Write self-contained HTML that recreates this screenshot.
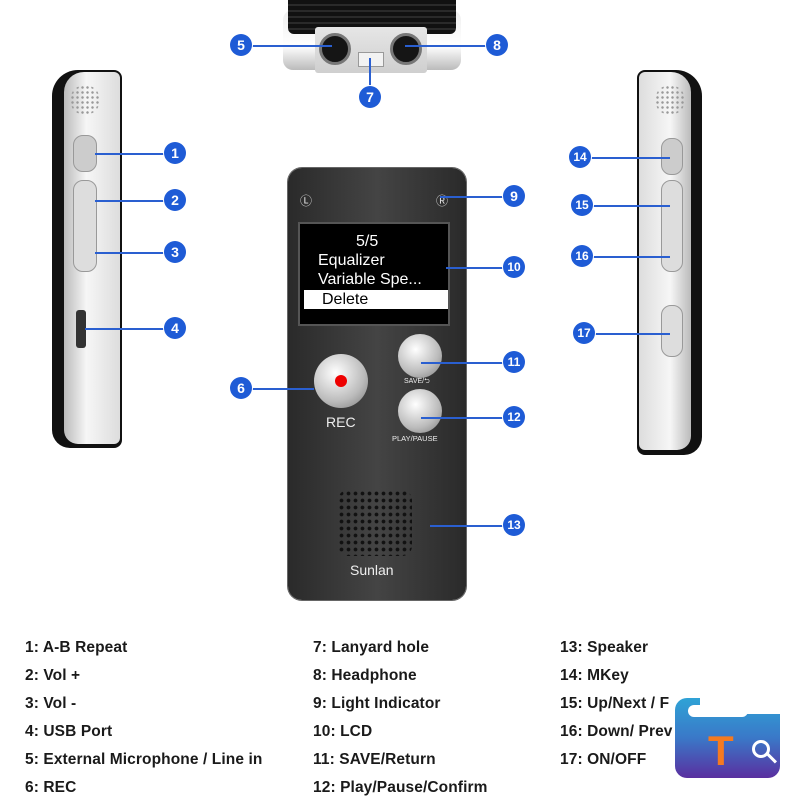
<!DOCTYPE html>
<html><head><meta charset="utf-8"><style>
body{margin:0;width:800px;height:800px;background:#fff;position:relative;overflow:hidden;font-family:"Liberation Sans",sans-serif}
.a{position:absolute}
.n{position:absolute;width:22px;height:22px;border-radius:50%;background:#1e5bd6;color:#fff;font-weight:bold;font-size:14px;text-align:center;line-height:22px;box-shadow:0 0 0 1px #fff}
.l{position:absolute;height:1.5px;background:#2a5fd0}
.t{position:absolute;font-size:15.5px;color:#1a1a1a;font-weight:bold;letter-spacing:0.1px}
</style></head><body>
<!-- top device -->
<div class="a" style="left:283px;top:10px;width:178px;height:60px;background:linear-gradient(#eee,#fff 60%,#bbb);border-radius:10px"></div>
<div class="a" style="left:288px;top:0;width:168px;height:34px;background:repeating-linear-gradient(#111 0 4px,#2a2a2a 4px 6px);border-radius:0 0 6px 6px"></div>
<div class="a" style="left:315px;top:27px;width:112px;height:46px;background:linear-gradient(#e6e6e6,#cfcfcf);border-radius:3px"></div>
<div class="a" style="left:319px;top:33px;width:26px;height:26px;border-radius:50%;background:#151515;border:3px solid #777"></div>
<div class="a" style="left:390px;top:33px;width:26px;height:26px;border-radius:50%;background:#151515;border:3px solid #777"></div>
<div class="a" style="left:358px;top:52px;width:24px;height:13px;background:#f2f2f2;border:1px solid #999"></div>
<!-- left side device -->
<div class="a" style="left:52px;top:70px;width:70px;height:378px;background:#111;border-radius:26px 8px 8px 18px"></div>
<div class="a" style="left:64px;top:72px;width:56px;height:372px;background:linear-gradient(90deg,#bbb,#f6f6f6 40%,#ddd);border-radius:20px 6px 6px 14px"></div>
<div class="a" style="left:70px;top:85px;width:30px;height:30px;border-radius:50%;background:radial-gradient(#999 1px,transparent 1.5px) 0 0/5px 5px"></div>
<div class="a" style="left:73px;top:135px;width:22px;height:35px;background:#ccc;border-radius:10px;border:1px solid #999"></div>
<div class="a" style="left:73px;top:180px;width:22px;height:90px;background:#ddd;border-radius:10px;border:1px solid #999"></div>
<div class="a" style="left:76px;top:310px;width:10px;height:38px;background:#333;border-radius:3px"></div>
<!-- right side device -->
<div class="a" style="left:637px;top:70px;width:65px;height:385px;background:#111;border-radius:8px 26px 18px 8px"></div>
<div class="a" style="left:639px;top:72px;width:52px;height:378px;background:linear-gradient(90deg,#ddd,#f6f6f6 60%,#bbb);border-radius:6px 20px 14px 6px"></div>
<div class="a" style="left:655px;top:85px;width:30px;height:30px;border-radius:50%;background:radial-gradient(#999 1px,transparent 1.5px) 0 0/5px 5px"></div>
<div class="a" style="left:661px;top:138px;width:20px;height:35px;background:#ccc;border-radius:10px;border:1px solid #999"></div>
<div class="a" style="left:661px;top:180px;width:20px;height:90px;background:#ddd;border-radius:10px;border:1px solid #999"></div>
<div class="a" style="left:661px;top:305px;width:20px;height:50px;background:#ddd;border-radius:10px;border:1px solid #999"></div>
<!-- center device -->
<div class="a" style="left:288px;top:168px;width:178px;height:432px;background:linear-gradient(90deg,#2a2a2a,#444 50%,#2a2a2a);border-radius:14px;box-shadow:0 0 0 1px #666"></div>
<div class="a" style="left:300px;top:192px;color:#ddd;font-size:12px">Ⓛ</div>
<div class="a" style="left:436px;top:192px;color:#ddd;font-size:12px">Ⓡ</div>
<div class="a" style="left:298px;top:222px;width:148px;height:100px;background:#000;border:2px solid #555;color:#fff;font-size:16px;line-height:19px">
<div style="padding-left:56px;margin-top:8px">5/5</div>
<div style="padding-left:18px">Equalizer</div>
<div style="padding-left:18px">Variable Spe...</div>
<div style="padding-left:18px;background:#fff;color:#000;margin:1px 0 0 4px">Delete</div></div>
<div class="a" style="left:314px;top:354px;width:54px;height:54px;border-radius:50%;background:radial-gradient(circle at 40% 35%,#fff,#bbb 60%,#777)"></div>
<div class="a" style="left:335px;top:375px;width:12px;height:12px;border-radius:50%;background:#e00"></div>
<div class="a" style="left:326px;top:414px;color:#eee;font-size:14px">REC</div>
<div class="a" style="left:398px;top:334px;width:44px;height:44px;border-radius:50%;background:radial-gradient(circle at 40% 35%,#fff,#bbb 60%,#777)"></div>
<div class="a" style="left:404px;top:377px;color:#eee;font-size:7px">SAVE/⮌</div>
<div class="a" style="left:398px;top:389px;width:44px;height:44px;border-radius:50%;background:radial-gradient(circle at 40% 35%,#fff,#bbb 60%,#777)"></div>
<div class="a" style="left:392px;top:434px;color:#eee;font-size:7.5px">PLAY/PAUSE</div>
<div class="a" style="left:338px;top:490px;width:74px;height:66px;border-radius:10px;background:radial-gradient(#111 1.6px,transparent 2.2px) 0 0/7px 7px"></div>
<div class="a" style="left:350px;top:562px;color:#eee;font-size:14px">Sunlan</div>
<!-- lines -->
<div class="l" style="left:95px;top:153px;width:70px"></div>
<div class="l" style="left:95px;top:200px;width:70px"></div>
<div class="l" style="left:95px;top:252px;width:70px"></div>
<div class="l" style="left:85px;top:328px;width:80px"></div>
<div class="l" style="left:252px;top:45px;width:80px"></div>
<div class="l" style="left:405px;top:45px;width:83px"></div>
<div class="a" style="left:369px;top:58px;width:1.5px;height:30px;background:#2a5fd0"></div>
<div class="l" style="left:252px;top:388px;width:62px"></div>
<div class="l" style="left:440px;top:196px;width:65px"></div>
<div class="l" style="left:446px;top:267px;width:60px"></div>
<div class="l" style="left:421px;top:362px;width:85px"></div>
<div class="l" style="left:421px;top:417px;width:85px"></div>
<div class="l" style="left:430px;top:525px;width:75px"></div>
<div class="l" style="left:590px;top:157px;width:80px"></div>
<div class="l" style="left:592px;top:205px;width:78px"></div>
<div class="l" style="left:592px;top:256px;width:78px"></div>
<div class="l" style="left:594px;top:333px;width:76px"></div>
<!-- numbers -->
<div class="n" style="left:164px;top:142px">1</div>
<div class="n" style="left:164px;top:189px">2</div>
<div class="n" style="left:164px;top:241px">3</div>
<div class="n" style="left:164px;top:317px">4</div>
<div class="n" style="left:230px;top:34px">5</div>
<div class="n" style="left:230px;top:377px">6</div>
<div class="n" style="left:359px;top:86px">7</div>
<div class="n" style="left:486px;top:34px">8</div>
<div class="n" style="left:503px;top:185px">9</div>
<div class="n" style="left:503px;top:256px;font-size:12px">10</div>
<div class="n" style="left:503px;top:351px;font-size:12px">11</div>
<div class="n" style="left:503px;top:406px;font-size:12px">12</div>
<div class="n" style="left:503px;top:514px;font-size:12px">13</div>
<div class="n" style="left:569px;top:146px;font-size:12px">14</div>
<div class="n" style="left:571px;top:194px;font-size:12px">15</div>
<div class="n" style="left:571px;top:245px;font-size:12px">16</div>
<div class="n" style="left:573px;top:322px;font-size:12px">17</div>
<!-- legend -->
<div class="t" style="left:25px;top:639px">1: A-B Repeat</div>
<div class="t" style="left:25px;top:667px">2: Vol +</div>
<div class="t" style="left:25px;top:695px">3: Vol -</div>
<div class="t" style="left:25px;top:723px">4: USB Port</div>
<div class="t" style="left:25px;top:751px">5: External Microphone / Line in</div>
<div class="t" style="left:25px;top:779px">6: REC</div>
<div class="t" style="left:313px;top:639px">7: Lanyard hole</div>
<div class="t" style="left:313px;top:667px">8: Headphone</div>
<div class="t" style="left:313px;top:695px">9: Light Indicator</div>
<div class="t" style="left:313px;top:723px">10: LCD</div>
<div class="t" style="left:313px;top:751px">11: SAVE/Return</div>
<div class="t" style="left:313px;top:779px">12: Play/Pause/Confirm</div>
<div class="t" style="left:560px;top:639px">13: Speaker</div>
<div class="t" style="left:560px;top:667px">14: MKey</div>
<div class="t" style="left:560px;top:695px">15: Up/Next / F</div>
<div class="t" style="left:560px;top:723px">16: Down/ Prev</div>
<div class="t" style="left:560px;top:751px">17: ON/OFF</div>
<!-- logo -->
<div class="a" style="left:675px;top:698px;width:105px;height:80px;border-radius:12px;background:linear-gradient(#2fa3d6,#3a78c8 50%,#5a2fa0)"></div>
<div class="a" style="left:700px;top:698px;width:80px;height:16px;background:#fff"></div>
<div class="a" style="left:688px;top:705px;width:60px;height:12px;border-radius:6px;background:#fff"></div>
<div class="a" style="left:708px;top:730px;color:#f47a20;font-size:42px;font-weight:bold;line-height:42px">T</div>
<div class="a" style="left:752px;top:740px;width:12px;height:12px;border-radius:50%;border:3px solid #fff"></div>
<div class="a" style="left:764px;top:756px;width:14px;height:3px;background:#fff;transform:rotate(45deg)"></div>
</body></html>
